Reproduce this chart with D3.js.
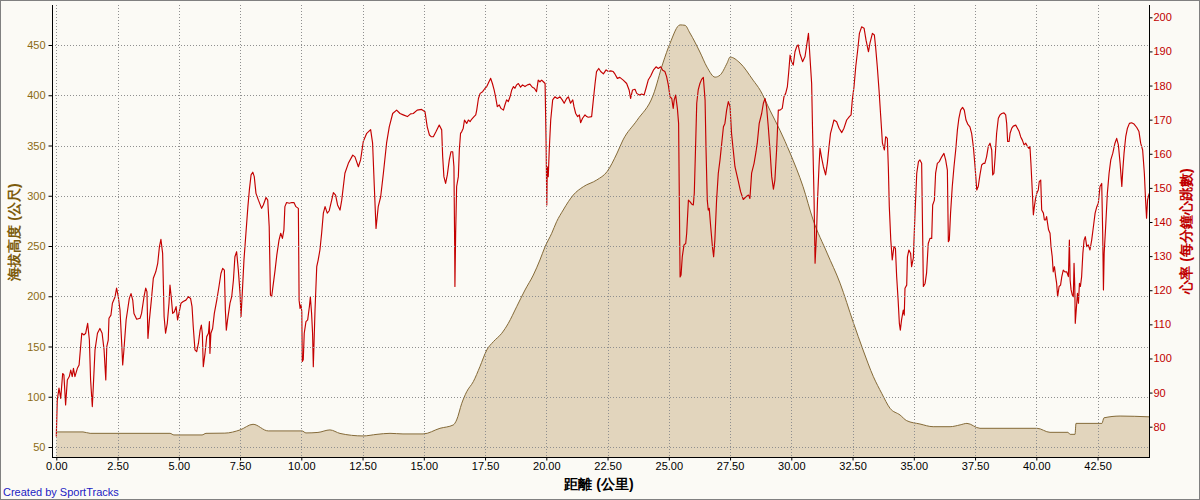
<!DOCTYPE html>
<html><head><meta charset="utf-8">
<script src="https://cdn.jsdelivr.net/npm/d3@7"></script>
<style>
html,body{margin:0;padding:0;background:#fbfaf5;}
svg{display:block;}
text{font-family:"Liberation Sans",Arial,sans-serif;}
</style></head><body>
<svg id="chart" width="1200" height="500"></svg>
<script>
// ---- tick labels ----
const xTicks = [0,2.5,5,7.5,10,12.5,15,17.5,20,22.5,25,27.5,30,32.5,35,37.5,40,42.5];
const elevTicks = [50,100,150,200,250,300,350,400,450];
const hrTicks = [80,90,100,110,120,130,140,150,160,170,180,190,200];

// ---- elevation (km, m) ----
const elevKm = [0,1.09,1.38,4.64,4.80,5.95,6.11,6.88,7.50,8.03,8.65,10.03,10.19,10.68,11.17,11.58,12.52,13.09,13.62,14.15,14.97,15.66,16.20,16.34,16.55,16.75,17.02,17.29,17.57,17.84,18.18,18.45,18.79,19.13,19.47,19.74,19.95,20.22,20.42,20.69,20.90,21.10,21.51,22.06,22.48,22.89,23.13,23.70,24.36,24.76,25.05,25.46,25.66,25.86,26.27,26.56,26.89,27.09,27.38,27.50,27.91,28.44,28.73,29.13,29.54,29.95,30.48,30.89,31.46,31.99,32.53,32.93,33.35,33.69,34.03,34.44,34.71,35.25,35.79,36.48,36.89,37.17,37.70,40.03,40.56,41.29,41.38,41.58,41.62,42.68,42.76,43.42,44.62];
const elevM = [65,65,63.6,63.6,62,62,63.6,63.8,67,72.6,66,66,64,64.5,67,63.5,61,62.6,63.6,63,63,68.6,71.9,76.9,93.5,105,115,129.9,146.5,154.8,163.1,173.1,189.6,206.2,221.1,236.1,249.3,262.6,274.2,285.8,294.1,300.7,309,315.7,324,342.5,355.5,375,400,432,451.7,470,469.6,462,443,428,418,420,432,438,432,415,405,385,365,342.5,309,276,243,213,174,146.5,120,103.4,88.5,81.8,76.2,72.9,70.2,70.2,72,73.5,68.6,68.6,64.6,64.6,62.6,62.6,73.5,73.5,79,80.8,80];

// ---- heart rate (km, bpm) ----
const hrKm = [
0,0.04,0.11,0.18,0.26,0.31,0.38,0.45,0.53,0.59,0.65,0.70,0.76,0.86,0.93,0.97,1.04,1.13,1.20,1.28,1.35,1.40,1.47,1.51,1.58,1.68,1.78,1.87,1.95,2.02,2.06,2.12,2.15,2.23,2.29,2.40,2.46,2.53,2.60,2.67,2.71,2.76,2.85,2.90,2.98,3.05,3.12,3.17,3.28,3.42,3.48,3.58,3.65,3.70,3.74,3.80,3.88,3.96,4.06,4.14,4.21,4.27,4.34,4.40,4.46,4.53,4.60,4.64,4.69,4.75,4.82,4.89,4.95,5.02,5.09,5.18,5.29,5.39,5.48,5.54,5.59,5.66,5.73,5.80,5.87,5.92,5.96,6.00,6.07,6.14,6.21,6.25,6.27,6.31,6.38,6.45,6.55,6.64,6.72,6.79,6.86,6.90,6.94,6.99,7.09,7.16,7.23,7.29,7.36,7.43,7.50,7.54,7.59,7.66,7.74,7.82,7.88,7.95,8.02,8.08,8.15,8.25,8.38,8.45,8.56,8.63,8.69,8.74,8.79,8.86,8.93,9.00,9.09,9.16,9.23,9.29,9.33,9.40,9.51,9.61,9.70,9.78,9.88,9.91,9.95,9.99,10.02,10.04,10.08,10.12,10.19,10.26,10.33,10.37,10.42,10.46,10.49,10.56,10.63,10.69,10.76,10.83,10.90,10.97,11.06,11.14,11.24,11.31,11.40,11.48,11.58,
11.65,11.78,11.92,12.10,12.19,12.33,12.42,12.53,12.67,12.83,12.91,12.98,13.05,13.14,13.24,13.35,13.48,13.59,13.73,13.89,14.03,14.16,14.33,14.46,14.57,14.73,14.91,15.05,15.14,15.23,15.30,15.39,15.50,15.63,15.73,15.77,15.82,15.89,15.96,16.04,16.11,16.18,16.23,16.26,16.27,16.30,16.34,16.41,16.45,16.50,16.55,16.61,16.66,16.75,16.82,16.89,16.95,17.05,17.12,17.16,17.23,17.30,17.40,17.50,17.57,17.66,17.73,17.80,17.87,17.93,18.00,18.08,18.15,18.25,18.31,18.38,18.45,18.52,18.59,18.66,18.72,18.79,18.86,18.95,19.03,19.13,19.23,19.33,19.43,19.51,19.60,19.67,19.74,19.81,19.88,19.95,19.99,20.02,20.04,20.08,20.12,20.18,20.26,20.35,20.45,20.56,20.65,20.73,20.83,20.90,20.99,21.08,21.13,21.20,21.28,21.35,21.40,21.48,21.58,21.65,21.71,21.85,21.92,21.99,22.05,22.14,22.22,22.33,22.44,22.53,22.63,22.73,22.80,22.90,23.00,
23.14,23.28,23.38,23.44,23.52,23.62,23.69,23.80,23.89,23.99,24.07,24.16,24.26,24.37,24.48,24.57,24.67,24.75,24.84,24.91,24.98,25.05,25.12,25.18,25.22,25.28,25.35,25.40,25.46,25.50,25.55,25.62,25.69,25.73,25.80,25.87,25.93,26.00,26.04,26.10,26.14,26.20,26.27,26.34,26.41,26.48,26.52,26.57,26.61,26.65,26.71,26.78,26.83,26.88,26.95,27.02,27.09,27.16,27.23,27.29,27.36,27.43,27.50,27.56,27.63,27.70,27.84,27.93,28.04,28.15,28.25,28.31,28.38,28.48,28.56,28.61,28.69,28.79,28.86,28.93,28.99,29.06,29.13,29.20,29.27,29.33,29.40,29.47,29.54,29.63,29.70,29.77,29.84,29.89,29.95,30.01,30.08,30.15,30.22,30.28,30.35,30.46,30.56,30.63,30.70,30.76,30.83,30.87,30.93,30.97,31.03,31.07,31.13,31.17,31.24,31.31,31.40,31.47,31.54,31.60,31.67,31.74,31.85,31.95,32.06,32.15,32.26,32.37,32.44,32.49,32.56,32.63,32.71,32.78,32.87,32.97,33.05,33.15,33.21,33.31,33.39,33.44,33.51,33.58,33.65,33.72,33.80,33.85,33.92,33.96,34.00,34.06,34.12,34.19,34.25,34.30,34.36,34.41,34.45,
34.50,34.57,34.61,34.64,34.71,34.74,34.80,34.87,34.91,34.98,35.05,35.12,35.19,35.25,35.32,35.36,35.39,35.46,35.52,35.59,35.66,35.73,35.77,35.84,35.89,35.96,36.04,36.14,36.23,36.30,36.37,36.41,36.45,36.50,36.57,36.64,36.71,36.78,36.84,36.91,36.99,37.06,37.13,37.20,37.29,37.36,37.43,37.50,37.57,37.63,37.70,37.77,37.84,37.90,37.97,38.04,38.11,38.18,38.22,38.27,38.32,38.38,38.45,38.52,38.59,38.68,38.75,38.79,38.83,38.89,38.93,39.00,39.06,39.16,39.23,39.30,39.36,39.43,39.50,39.57,39.64,39.70,39.74,39.78,39.84,39.88,39.92,39.97,40.02,40.08,40.12,40.18,40.22,40.29,40.33,40.38,40.42,40.46,40.50,40.56,40.60,40.65,40.69,40.74,40.79,40.83,40.87,40.93,40.99,41.04,41.10,41.17,41.24,41.31,41.35,41.38,41.42,41.47,41.51,41.54,41.57,41.59,41.64,41.68,41.72,41.76,41.80,41.85,41.90,41.95,42.00,42.06,42.12,42.19,42.26,42.33,42.40,42.47,42.53,42.60,42.67,42.71,42.74,42.77,42.83,42.90,42.97,43.04,43.12,43.21,43.28,43.35,43.42,43.49,43.53,43.58,43.65,43.72,43.80,43.89,43.99,44.10,44.19,44.26,44.34,44.41,44.46,44.50,44.54,44.57,44.61];
const hrBpm = [
77.1,87.8,91.3,88.3,95.6,95.2,86.4,93.7,94.7,96.6,94.7,97.1,94.7,97.1,98.1,101.5,107.4,106.9,107.4,110.3,105.4,93.7,85.9,91.7,102.5,107.4,108.8,107.4,102.5,93.7,103.5,105.4,111.8,112.7,116.2,118.1,120.6,118.1,114.2,104.4,98.1,102.5,111.3,113.7,117.6,119.0,117.1,113.2,111.5,111.8,113.2,118.1,120.6,119.6,105.9,111.3,117.1,123.5,125.4,127.9,132.8,134.9,130.8,112.3,107.4,110.3,116.2,121.5,118.1,113.2,113.7,115.2,111.3,113.7,116.2,116.7,117.1,118.1,117.6,115.2,109.3,102.5,102.0,104.4,108.3,109.8,107.4,97.6,101.5,106.4,107.4,110.8,101.5,107.4,108.8,113.2,117.1,121.1,124.9,126.4,125.9,114.2,108.3,111.3,116.2,118.1,123.0,129.8,131.3,125.9,119.0,112.3,119.0,128.9,136.7,144.5,149.4,153.8,154.6,153.3,148.4,146.4,144.0,145.0,147.2,146.4,138.6,118.6,118.1,122.0,125.9,130.3,134.7,136.7,135.2,137.7,144.5,145.7,145.5,145.7,145.7,144.5,144.0,117.1,114.7,115.7,113.7,99.1,99.6,107.4,110.8,111.3,115.2,118.1,113.2,107.4,97.6,114.2,126.9,128.9,131.8,136.7,142.6,144.5,142.6,143.3,146.4,148.6,147.9,145.0,143.5,
146.4,154.3,157.2,159.6,159.1,156.2,158.2,163.6,166.0,167.1,163.1,150.4,138.1,144.5,147.4,154.3,163.1,167.9,171.8,172.8,171.8,171.4,170.9,171.7,171.8,172.8,173.0,172.3,167.9,165.5,165.0,165.0,166.5,168.4,167.0,159.2,153.3,151.3,153.8,158.2,160.6,160.6,156.2,132.8,121.1,136.7,150.4,153.3,161.1,166.0,166.5,167.5,169.9,168.9,169.9,169.4,170.1,170.9,171.4,172.8,176.2,177.7,178.2,179.2,179.7,181.1,182.1,180.6,178.7,176.7,173.8,174.3,173.3,172.8,174.3,175.8,175.3,176.7,178.7,179.7,179.2,180.2,180.6,179.5,180.2,179.7,180.2,180.4,179.5,179.2,178.2,181.6,181.1,181.6,181.1,180.6,164.0,145.0,156.2,153.3,161.1,169.9,175.8,176.7,176.2,176.7,175.8,174.8,176.2,176.7,174.8,175.8,173.8,171.8,170.9,171.4,169.1,170.4,171.4,170.9,170.7,170.9,175.8,180.6,184.1,185.0,184.1,183.4,184.6,184.1,184.3,184.1,183.4,182.1,182.4,
181.6,180.6,178.7,176.2,178.7,178.9,177.7,177.2,177.5,177.2,179.2,181.6,182.8,184.5,185.5,185.0,185.5,184.5,184.1,182.6,180.2,176.7,176.2,173.3,175.8,177.2,173.3,168.9,123.9,124.5,129.8,133.3,133.7,136.7,146.4,145.9,145.3,145.0,148.4,164.0,174.8,178.7,180.6,181.8,182.4,175.8,161.1,146.4,143.5,144.0,138.6,132.8,129.8,134.7,146.4,154.3,158.2,163.1,167.9,168.9,172.8,175.3,173.8,166.0,161.1,156.2,151.8,148.9,146.6,147.4,147.9,146.9,154.3,157.2,160.6,163.1,168.9,171.8,174.8,176.2,173.8,167.9,161.1,153.3,149.6,152.3,161.1,172.8,172.8,173.3,176.7,177.7,179.7,183.6,188.9,187.0,186.0,189.9,191.4,191.9,189.4,187.0,188.5,191.9,195.3,188.5,180.6,166.0,146.4,127.9,136.7,146.4,156.2,161.6,158.7,156.2,153.8,157.2,162.1,166.0,167.9,169.9,169.4,167.5,166.2,167.5,169.9,170.9,171.4,175.8,179.7,185.5,190.4,195.3,197.2,196.8,193.3,189.9,192.4,195.3,194.8,191.4,185.5,178.7,170.9,163.1,161.1,165.0,164.5,156.2,144.5,134.7,128.9,132.8,132.3,124.0,117.1,110.3,108.3,
111.3,114.2,112.7,120.6,121.5,129.8,131.8,130.8,126.9,129.4,142.6,154.3,157.7,158.2,157.2,136.7,121.1,122.0,125.0,133.7,135.2,135.2,145.0,146.4,154.3,157.2,157.7,159.1,160.1,158.2,155.2,134.2,134.7,142.6,150.4,156.2,161.1,167.0,170.4,172.8,173.6,172.8,169.9,168.7,167.9,166.0,162.1,156.2,149.4,150.4,153.8,156.7,157.2,157.2,159.1,162.1,163.1,161.1,153.8,154.3,159.1,166.0,170.4,171.4,171.8,172.0,171.4,168.9,163.6,163.6,166.0,167.5,168.1,168.4,167.5,166.5,165.0,164.0,162.6,163.1,162.1,161.6,162.1,157.2,148.4,142.1,144.5,146.9,148.4,149.4,151.8,152.3,143.5,142.6,140.6,140.6,141.6,139.6,137.7,136.7,132.8,129.8,125.4,126.9,124.0,122.0,118.1,121.1,121.5,124.0,125.9,125.4,125.4,124.0,134.7,123.0,120.1,118.6,118.1,127.9,121.1,110.3,115.2,119.1,116.2,122.0,121.1,124.0,130.8,134.7,135.7,132.8,133.3,131.8,134.7,138.6,142.6,144.5,145.5,150.4,151.3,136.7,120.1,130.8,138.6,148.4,154.3,158.2,160.1,163.1,164.5,162.6,157.2,150.4,155.2,160.1,165.0,167.5,168.9,169.1,168.7,167.7,166.5,163.1,161.1,154.3,146.4,141.1,146.4,147.4,148.4];

// ---- texts ----
const leftTitle = "海拔高度 (公尺)";
const rightTitle = "心率 (每分鐘心跳數)";
const xTitle = "距離 (公里)";
const credit = "Created by SportTracks";

// ---- layout ----
const W = 1200, H = 500;
const P = {left: 52, right: 1149, top: 5, bottom: 457};

const svg = d3.select("#chart");
svg.append("rect").attr("x",0).attr("y",0).attr("width",W).attr("height",H).attr("fill","#fbfaf5");

const x = d3.scaleLinear().domain([0, 44.62]).range([56.3, 1149.5]);
const yL = d3.scaleLinear().domain([50, 450]).range([447, 45]);
const yR = d3.scaleLinear().domain([80, 200]).range([426.7, 17.3]);

svg.append("defs").append("clipPath").attr("id","plotclip")
  .append("rect").attr("x",P.left).attr("y",P.top).attr("width",P.right-P.left).attr("height",P.bottom-P.top);

const plot = svg.append("g").attr("clip-path","url(#plotclip)");

const elev = d3.zip(elevKm, elevM);
const hr = d3.zip(hrKm, hrBpm);

// elevation area
plot.append("path").datum(elev)
  .attr("fill","#e2d5bd")
  .attr("d", d3.area().curve(d3.curveMonotoneX).x(d=>x(d[0])).y0(P.bottom).y1(d=>yL(d[1])));

// grid
const grid = svg.append("g").attr("stroke","#8f8f8f").attr("stroke-width",1).attr("stroke-dasharray","1,2");
grid.selectAll("line.h").data(elevTicks).join("line")
  .attr("x1",P.left).attr("x2",P.right)
  .attr("y1",d=>Math.round(yL(d))+0.5).attr("y2",d=>Math.round(yL(d))+0.5);
grid.selectAll("line.v").data(xTicks).join("line")
  .attr("x1",d=>Math.round(x(d))+0.5).attr("x2",d=>Math.round(x(d))+0.5)
  .attr("y1",P.top).attr("y2",P.bottom);

// elevation outline
plot.append("path").datum(elev)
  .attr("fill","none").attr("stroke","#846a38").attr("stroke-width",1)
  .attr("d", d3.line().curve(d3.curveMonotoneX).x(d=>x(d[0])).y(d=>yL(d[1])));

// heart rate line
plot.append("path").datum(hr)
  .attr("fill","none").attr("stroke","#c40000").attr("stroke-width",1.15)
  .attr("stroke-linejoin","round")
  .attr("d", d3.line().x(d=>x(d[0])).y(d=>yR(d[1])));

// axes
const axL = svg.append("g").attr("transform",`translate(${P.left+0.5},0)`)
  .call(d3.axisLeft(yL).tickValues(elevTicks).tickSize(4).tickPadding(3).tickFormat(d3.format("d")));
axL.select(".domain").remove();
axL.selectAll("line").attr("stroke","#000");
axL.selectAll("text").attr("fill","#8b6a14").attr("font-size",11).attr("font-family","Liberation Sans, Arial, sans-serif");

const axR = svg.append("g").attr("transform",`translate(${P.right+0.5},0)`)
  .call(d3.axisRight(yR).tickValues(hrTicks).tickSize(3).tickPadding(1).tickFormat(d3.format("d")));
axR.select(".domain").remove();
axR.selectAll("line").attr("stroke","#000");
axR.selectAll("text").attr("fill","#c00000").attr("font-size",11).attr("font-family","Liberation Sans, Arial, sans-serif");

const axB = svg.append("g").attr("transform",`translate(0,${P.bottom+0.5})`)
  .call(d3.axisBottom(x).tickValues(xTicks).tickSize(3).tickPadding(2).tickFormat(d3.format(".2f")));
axB.select(".domain").remove();
axB.selectAll("line").attr("stroke","#000");
axB.selectAll("text").attr("fill","#000").attr("font-size",11).attr("font-family","Liberation Sans, Arial, sans-serif");

// axis lines
svg.append("line").attr("x1",P.left+0.5).attr("x2",P.left+0.5).attr("y1",P.top).attr("y2",P.bottom+1).attr("stroke","#000");
svg.append("line").attr("x1",P.right+0.5).attr("x2",P.right+0.5).attr("y1",P.top).attr("y2",P.bottom+1).attr("stroke","#000");
svg.append("line").attr("x1",P.left).attr("x2",P.right+1).attr("y1",P.bottom+0.5).attr("y2",P.bottom+0.5).attr("stroke","#000");

// titles
const cjk = '"Noto Sans CJK TC","Noto Sans CJK SC",sans-serif';
svg.append("text").text(leftTitle)
  .attr("transform","translate(14,232) rotate(-90)")
  .attr("text-anchor","middle").attr("dominant-baseline","central")
  .attr("font-family",cjk).attr("font-weight","bold").attr("font-size",14).attr("fill","#7d5c0c");
svg.append("text").text(rightTitle)
  .attr("transform","translate(1186,231) rotate(-90)")
  .attr("text-anchor","middle").attr("dominant-baseline","central")
  .attr("font-family",cjk).attr("font-weight","bold").attr("font-size",14).attr("fill","#c00000");
svg.append("text").text(xTitle)
  .attr("x",599).attr("y",484)
  .attr("text-anchor","middle").attr("dominant-baseline","central")
  .attr("font-family",cjk).attr("font-weight","bold").attr("font-size",14).attr("fill","#000");
svg.append("text").text(credit)
  .attr("x",3).attr("y",496)
  .attr("font-size",11).attr("fill","#1c1cc4");

// outer frame
svg.append("rect").attr("x",0.5).attr("y",0.5).attr("width",W-1).attr("height",H-1)
  .attr("fill","none").attr("stroke","#808080");
</script>
</body></html>
